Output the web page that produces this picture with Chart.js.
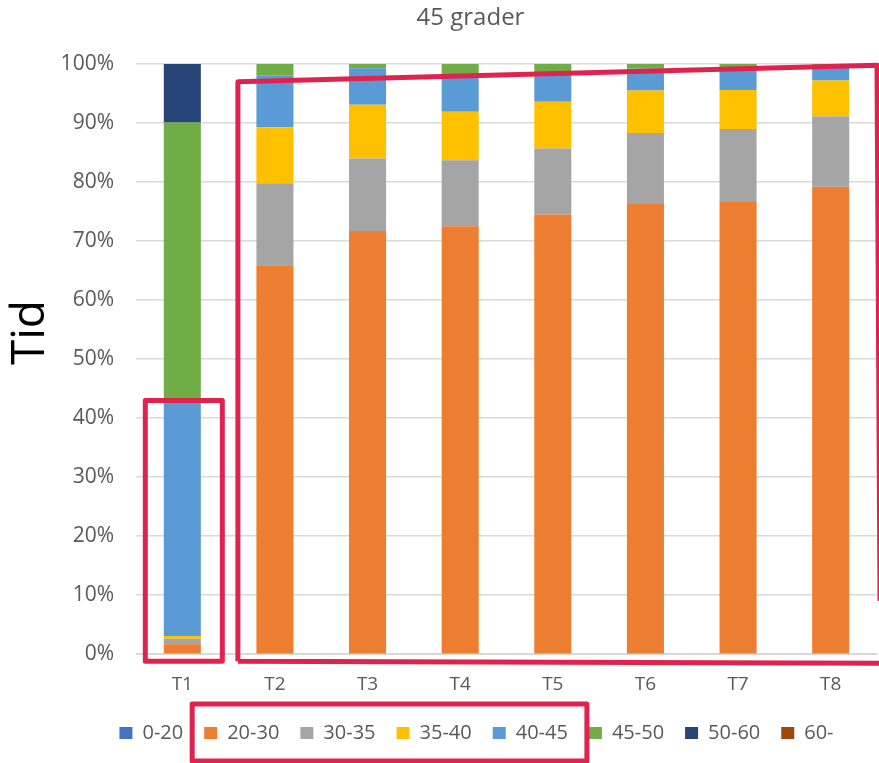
<!DOCTYPE html>
<html>
<head>
<meta charset="utf-8">
<title>45 grader</title>
<script src="https://cdn.jsdelivr.net/npm/chart.js@4"></script>
<style>
  html, body { margin: 0; padding: 0; background: #fff; }
  #wrap { width: 879px; height: 763px; }
</style>
</head>
<body>
<div id="wrap"><canvas id="chart1"></canvas></div>
<script>
// tider per temperaturintervall, andel i procent
const labels = ['T1', 'T2', 'T3', 'T4', 'T5', 'T6', 'T7', 'T8'];
const bands = ['0-20', '20-30', '30-35', '35-40', '40-45', '45-50', '50-60', '60-'];
const colors = ['#4472C4', '#ED7D31', '#A5A5A5', '#FFC000', '#5B9BD5', '#70AD47', '#264478', '#9E480E'];

const v0_20  = [0, 0, 0, 0, 0, 0, 0, 0];
const v20_30 = [1.7, 65.9, 71.7, 72.5, 74.5, 76.3, 76.6, 79.2];
const v30_35 = [0.9, 13.9, 12.3, 11.2, 11.2, 12.0, 12.4, 11.9];
const v35_40 = [0.5, 9.5, 9.1, 8.2, 7.9, 7.2, 6.6, 6.1];
const v40_45 = [39.8, 8.7, 6.2, 6.4, 4.7, 3.7, 3.6, 2.3];
const v45_50 = [47.2, 2.0, 0.7, 1.7, 1.7, 0.8, 0.8, 0.5];
const v50_60 = [9.9, 0, 0, 0, 0, 0, 0, 0];
const v60    = [0, 0, 0, 0, 0, 0, 0, 0];

const series = [v0_20, v20_30, v30_35, v35_40, v40_45, v45_50, v50_60, v60];
const yTicks = [0, 10, 20, 30, 40, 50, 60, 70, 80, 90, 100];

const FONT = '"Open Sans", "Noto Sans", sans-serif';
const GREY = '#595959';
const RED = '#E0234E';

// förklaringen sitter lite till höger om mitten
const legendShift = {
    id: 'legendShift',
    afterLayout(chart) {
        chart.legend.left += 38;
        chart.legend.right += 38;
    }
};

// rubrik och axeltitel ritas för hand så de hamnar rätt
const texts = {
    id: 'texts',
    afterDraw(chart) {
        const ctx = chart.ctx;
        const area = chart.chartArea;
        ctx.save();
        ctx.textAlign = 'center';
        ctx.textBaseline = 'middle';
        ctx.fillStyle = GREY;
        ctx.font = '24px ' + FONT;
        ctx.fillText('45 grader', chart.width / 2 + 31, 18);

        ctx.translate(31, area.top + (area.bottom - area.top) * 0.455);
        ctx.rotate(-Math.PI / 2);
        ctx.fillStyle = '#000';
        ctx.font = '46px ' + FONT;
        ctx.fillText('Tid', 0, 0);
        ctx.restore();
    }
};

// röda markeringar ovanpå diagrammet
const markings = {
    id: 'markings',
    afterDraw(chart) {
        const ctx = chart.ctx;
        const x = chart.scales.x, y = chart.scales.y;
        const area = chart.chartArea;
        const base = y.getPixelForValue(0);
        ctx.save();
        ctx.strokeStyle = RED;
        ctx.lineWidth = 5;
        ctx.lineJoin = 'round';

        // ruta runt T1
        const c1 = x.getPixelForValue(0);
        const t1Top = y.getPixelForValue(43);
        ctx.strokeRect(c1 - 37, t1Top, 77, base + 7 - t1Top);

        // snedställd ram runt T2-T8
        const left = x.getPixelForValue(0.6);
        ctx.beginPath();
        ctx.moveTo(left, base + 7);
        ctx.lineTo(left, y.getPixelForValue(97.0));
        ctx.lineTo(area.right, y.getPixelForValue(99.8));
        ctx.lineTo(area.right + 3, y.getPixelForValue(9));
        ctx.moveTo(left, base + 7);
        ctx.lineTo(chart.width + 5, base + 9);
        ctx.stroke();

        // ruta runt förklaringen 20-30 ... 40-45
        const boxes = chart.legend.legendHitBoxes;
        if (boxes && boxes.length > 4) {
            const l = boxes[1].left - 12;
            const r = boxes[4].left + boxes[4].width + 19;
            const mid = boxes[1].top + boxes[1].height / 2;
            ctx.strokeRect(l, mid - 29, r - l, 57);
        }
        ctx.restore();
    }
};

new Chart(document.getElementById('chart1'), {
    type: 'bar',
    data: {
        labels: labels,
        datasets: series.map(function(data, i) {
            return {
                label: bands[i],
                data: data,
                backgroundColor: colors[i],
                borderWidth: 0,
                barPercentage: 0.4,
                categoryPercentage: 1
            };
        })
    },
    options: {
        responsive: true,
        maintainAspectRatio: false,
        animation: false,
        layout: { padding: { left: 0, right: 2, top: 64, bottom: 10 } },
        plugins: {
            title: { display: false },
            legend: {
                position: 'bottom',
                labels: {
                    color: GREY,
                    font: { family: FONT, size: 20 },
                    boxWidth: 13,
                    boxHeight: 12,
                    padding: 21
                }
            },
            tooltip: { enabled: false }
        },
        scales: {
            x: {
                stacked: true,
                grid: { display: false },
                border: { color: '#d9d9d9' },
                afterFit(scale) { scale.height -= 5; },
                ticks: { color: GREY, font: { family: FONT, size: 19 }, padding: 11 }
            },
            y: {
                stacked: true,
                min: 0,
                max: 100,
                afterBuildTicks(scale) {
                    scale.ticks = yTicks.map(function(v) { return { value: v }; });
                },
                afterFit(scale) { scale.width = 136; },
                grid: { color: '#d9d9d9', lineWidth: 1.5, drawTicks: false },
                border: { display: false },
                ticks: {
                    color: GREY,
                    font: { family: FONT, size: 21 },
                    padding: 22,
                    callback: function(v) { return v + '%'; }
                }
            }
        }
    },
    plugins: [legendShift, texts, markings]
});
</script>
</body>
</html>
